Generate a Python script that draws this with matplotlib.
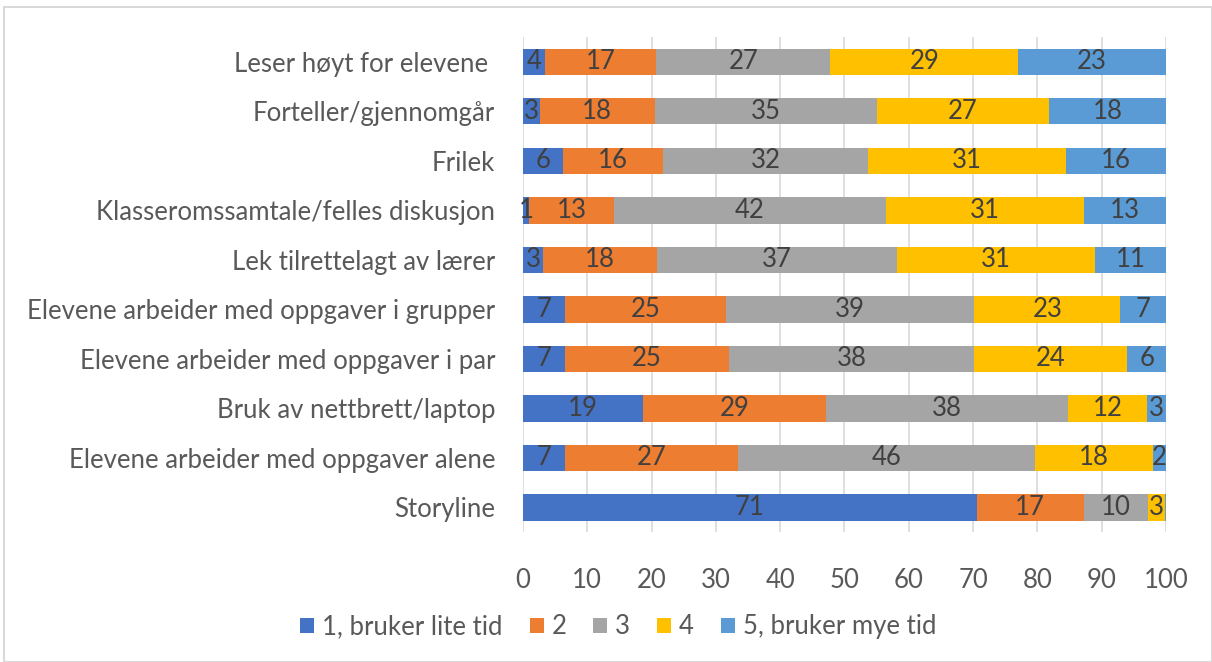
import numpy as np
import matplotlib
matplotlib.use("Agg")
import matplotlib.pyplot as plt
from matplotlib.patches import Rectangle

# categories, top to bottom as shown
categories = [
    "Leser høyt for elevene ",
    "Forteller/gjennomgår",
    "Frilek",
    "Klasseromssamtale/felles diskusjon",
    "Lek tilrettelagt av lærer",
    "Elevene arbeider med oppgaver i grupper",
    "Elevene arbeider med oppgaver i par",
    "Bruk av nettbrett/laptop",
    "Elevene arbeider med oppgaver alene",
    "Storyline",
]

# percent per answer level
lvl1 = [3.5, 2.6, 6.2, 0.9, 3.1, 6.6, 6.6, 18.6, 6.6, 70.6]
lvl2 = [17.2, 17.9, 15.6, 13.3, 17.8, 25.0, 25.4, 28.6, 26.9, 16.6]
lvl3 = [27.1, 34.5, 31.9, 42.2, 37.2, 38.6, 38.2, 37.6, 46.1, 10.0]
lvl4 = [29.2, 26.8, 30.8, 30.9, 30.9, 22.7, 23.8, 12.3, 18.4, 2.6]
lvl5 = [23.0, 18.2, 15.5, 12.7, 11.0, 7.1, 6.0, 2.9, 2.0, 0.2]

series_names = ["1, bruker lite tid", "2", "3", "4", "5, bruker mye tid"]
colors = ["#4472C4", "#ED7D31", "#A5A5A5", "#FFC000", "#5B9BD5"]
xticks = [0, 10, 20, 30, 40, 50, 60, 70, 80, 90, 100]

FONT = "Lato"
FS = 18.5
TXT = "#595959"

fig = plt.figure(figsize=(12.12, 6.62), dpi=100)
ax = fig.add_axes([0.4315, 0.196, 0.5305, 0.748])

# light border round the chart area
fig.patches.append(Rectangle((0.003, 0.0), 0.997, 0.989, transform=fig.transFigure,
                             fill=False, edgecolor="#D9D9D9", linewidth=1.5))

y = np.arange(len(categories))
left = np.zeros(len(categories))
for vals, name, col in zip([lvl1, lvl2, lvl3, lvl4, lvl5], series_names, colors):
    vals = np.array(vals)
    ax.barh(y, vals, left=left, height=0.53, color=col, label=name, linewidth=0, zorder=2)
    for yi, l, v in zip(y, left, vals):
        lab = int(v + 0.5)
        if lab >= 1:
            ax.text(l + v / 2, yi, str(lab), ha="center", va="center",
                    fontsize=FS, color="#404040", family=FONT, zorder=3)
    left += vals

ax.set_xlim(0, 100)
ax.set_ylim(len(categories) - 0.5, -0.5)
ax.set_xticks(xticks)
ax.set_yticks(y)
ax.set_yticklabels(categories)
for s in ax.spines.values():
    s.set_visible(False)
ax.grid(axis="x", color="#D9D9D9", linewidth=1.2, zorder=0)
ax.tick_params(axis="both", length=0, labelsize=FS, labelcolor=TXT)
ax.tick_params(axis="x", pad=26)
ax.tick_params(axis="y", pad=20)
for t in ax.get_xticklabels() + ax.get_yticklabels():
    t.set_family(FONT)

fig.legend(loc="center", bbox_to_anchor=(0.51, 0.053), ncol=5, frameon=False,
           prop={"family": FONT, "size": FS}, labelcolor=TXT,
           handlelength=0.55, handleheight=0.55, handletextpad=0.3, columnspacing=1.05)

fig.savefig("out.png", dpi=100)
